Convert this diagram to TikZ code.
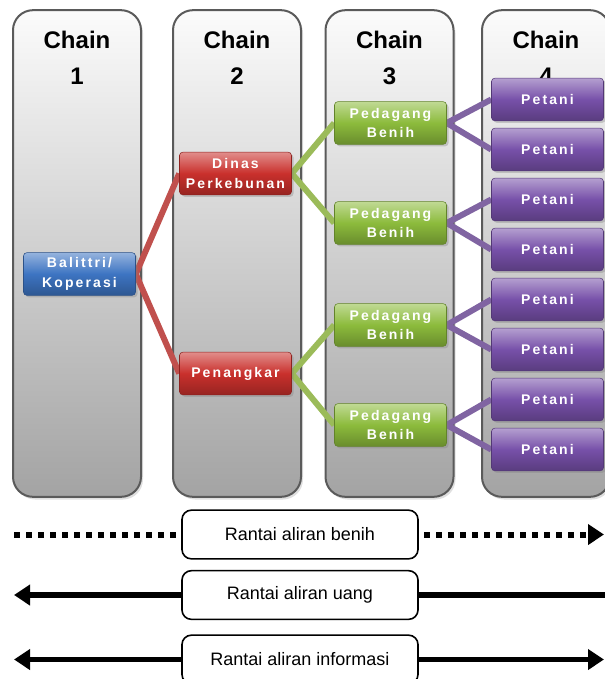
\documentclass[tikz,border=0pt]{standalone}
\usepackage{fontspec}
\setmainfont{Liberation Sans}
\newfontfamily\boxfont[LetterSpace=15]{Liberation Sans}
\usetikzlibrary{positioning,shadows,backgrounds,arrows.meta}

\definecolor{colborder}{HTML}{5A5A5A}
\definecolor{baliblue}{HTML}{3D74C2}
\definecolor{dinasred}{HTML}{C9302C}
\definecolor{dagangreen}{HTML}{8CBB3C}
\definecolor{petanipurple}{HTML}{7750A9}
\definecolor{redlink}{HTML}{C0504D}
\definecolor{greenlink}{HTML}{9BBB59}
\definecolor{purplelink}{HTML}{8064A2}

\tikzset{
  chaincol/.style={draw=colborder, line width=1.5pt, rounded corners=15pt,
    minimum width=96pt, minimum height=365pt,
    top color=white!97!gray, bottom color=gray!72,
    drop shadow={shadow xshift=1.5pt, shadow yshift=-2pt, opacity=0.25}},
  chainlbl/.style={inner sep=0pt, align=center,
    font=\bfseries\fontsize{18}{26.5}\selectfont},
  actor/.style={rounded corners=2.5pt, minimum width=84pt, minimum height=32pt,
    inner sep=1pt, align=center, text=white,
    font=\boxfont\bfseries\fontsize{10.5}{14.5}\selectfont,
    drop shadow={shadow xshift=1.5pt, shadow yshift=-1.5pt, opacity=0.35}},
  balibox/.style={actor, draw=baliblue!70!black, top color=baliblue!55!white,
    bottom color=baliblue!75!black, middle color=baliblue},
  dinasbox/.style={actor, draw=dinasred!70!black, top color=dinasred!55!white,
    bottom color=dinasred!75!black, middle color=dinasred},
  dagangbox/.style={actor, draw=dagangreen!70!black, top color=dagangreen!55!white,
    bottom color=dagangreen!75!black, middle color=dagangreen},
  petanibox/.style={actor, draw=petanipurple!70!black, top color=petanipurple!55!white,
    bottom color=petanipurple!75!black, middle color=petanipurple},
  link/.style={line width=4.5pt},
  legendbox/.style={draw, line width=1.2pt, rounded corners=7pt,
    minimum width=177pt, minimum height=36.5pt,
    font=\fontsize{13.5}{16}\selectfont},
  seedflow/.style={line width=4.5pt, dash pattern=on 4.5pt off 4.5pt},
  cashflow/.style={line width=4pt},
  flowtip/.style={-{Triangle[length=12pt,width=15pt]}},
}

\begin{document}
\begin{tikzpicture}[x=0.75pt,y=-0.75pt]
\useasboundingbox (0,0) rectangle (605,679);

% columns
\begin{scope}[on background layer]
\node[chaincol] (col1) at (77,253.5) {};
\node[chaincol] (col2) at (237,253.5) {};
\node[chaincol] (col3) at (389.5,253.5) {};
\node[chaincol] (col4) at (546,253.5) {};
\end{scope}
\node[chainlbl, below=16.5pt of col1.north] (lbl1) {Chain\\1};
\node[chainlbl, below=16.5pt of col2.north] (lbl2) {Chain\\2};
\node[chainlbl, below=16.5pt of col3.north] (lbl3) {Chain\\3};
\node[chainlbl, below=16.5pt of col4.north] (lbl4) {Chain\\4};

% actors
\node[balibox] (bali) at (79.5,274) {Balittri/\\Koperasi};
\node[dinasbox] (dinas) at (235.5,173.5) {Dinas\\Perkebunan};
\node[dinasbox] (tangkar) at (235.5,373.5) {Penangkar};
\node[dagangbox] (dagang1) at (390.5,123) {Pedagang\\Benih};
\node[dagangbox] (dagang2) at (390.5,223) {Pedagang\\Benih};
\node[dagangbox] (dagang3) at (390.5,325) {Pedagang\\Benih};
\node[dagangbox] (dagang4) at (390.5,425) {Pedagang\\Benih};
\foreach \i in {1,...,8}
  \node[petanibox] (tani\i) at (547.5,49.5+50*\i) {Petani};

% links
\begin{scope}[on background layer]
\draw[link, redlink] (bali.east) -- (dinas.west);
\draw[link, redlink] (bali.east) -- (tangkar.west);
\draw[link, greenlink] (dinas.east) -- (dagang1.west);
\draw[link, greenlink] (dinas.east) -- (dagang2.west);
\draw[link, greenlink] (tangkar.east) -- (dagang3.west);
\draw[link, greenlink] (tangkar.east) -- (dagang4.west);
\foreach \k/\a/\b in {1/1/2, 2/3/4, 3/5/6, 4/7/8} {
  \draw[link, purplelink] (dagang\k.east) -- (tani\a.west);
  \draw[link, purplelink] (dagang\k.east) -- (tani\b.west);
}
\end{scope}

% legend
\node[legendbox] (seed) at (300,534.5) {Rantai aliran benih};
\node[legendbox] (cash) at (300,595) {Rantai aliran uang};
\node[legendbox] (info) at (300,659.5) {Rantai aliran informasi};
\coordinate (leftend) at (14,0);
\coordinate (rightend) at (604,0);
\coordinate (pageend) at (610,0);

\draw[seedflow] (seed.west -| leftend) -- ([xshift=-4pt]seed.west);
\draw[seedflow, flowtip] ([xshift=4pt]seed.east) -- (seed.east -| rightend);
\draw[cashflow, flowtip] (cash.west) -- (cash.west -| leftend);
\draw[cashflow] (cash.east) -- (cash.east -| pageend);
\draw[cashflow, flowtip] (info.west) -- (info.west -| leftend);
\draw[cashflow, flowtip] (info.east) -- (info.east -| rightend);
\end{tikzpicture}
\end{document}
